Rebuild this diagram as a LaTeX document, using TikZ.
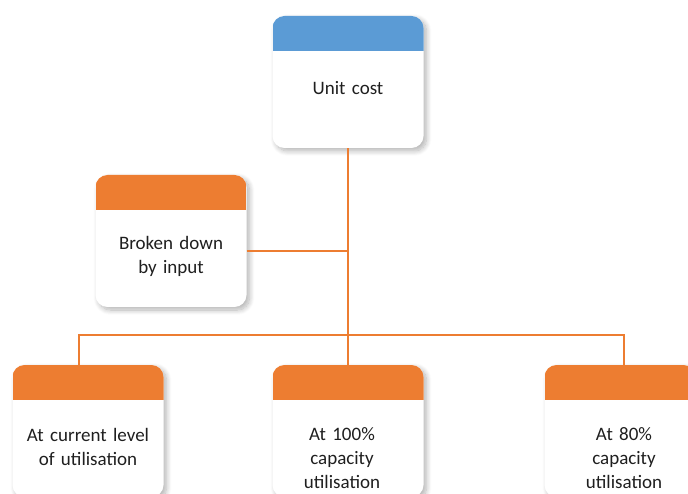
\documentclass[tikz,border=0pt]{standalone}
\usepackage{fontspec}
\setmainfont{Carlito}
\usetikzlibrary{positioning, shadows.blur}

\definecolor{hdrorange}{HTML}{ED7D31}
\definecolor{hdrblue}{HTML}{5B9BD5}
\definecolor{inkgray}{HTML}{1F1F1F}

\tikzset{
    card/.style={rectangle, rounded corners=12pt, fill=white,
        minimum width=151pt, minimum height=132pt, inner sep=0pt,
        blur shadow={shadow xshift=3pt, shadow yshift=-3pt, shadow blur steps=12, shadow blur radius=5pt, shadow opacity=30},
        path picture={\fill[#1, sharp corners] ([yshift=1pt]path picture bounding box.north west)
            rectangle ([yshift=-35pt]path picture bounding box.north east);}},
    cardtext/.style={inner sep=0pt, text width=145pt, align=center, text=inkgray,
        font=\fontsize{19}{24}\selectfont},
    link/.style={draw=hdrorange, line width=1.5pt}
}

\begin{document}
\begin{tikzpicture}[x=1pt, y=-1pt]

\useasboundingbox (0,0) rectangle (688,494);

\node[card=hdrblue] (unit) at (348,82) {};
\node[card=hdrorange] (input) at (171,241) {};
\node[card=hdrorange] (current) at (88,431) {};
\node[card=hdrorange] (full) at (348,431) {};
\node[card=hdrorange] (eighty) at (620,431) {};

\node[cardtext, below=65pt of unit.north] (unittext) {Unit cost};
\node[cardtext, below=61pt of input.north] (inputtext) {Broken down\\by input};
\node[cardtext, below=63pt of current.north] (currenttext) {At current level\\of utilisation};
\node[cardtext, below=63pt of full.north, xshift=-6pt] (fulltext) {At 100\%\\capacity\\utilisation};
\node[cardtext, below=63pt of eighty.north, xshift=4pt] (eightytext) {At 80\%\\capacity\\utilisation};

\draw[link] (unit.south) -- (full.north);
\draw[link] ([yshift=-10pt]input.east) -- ([yshift=-10pt]input.east -| unit.south);
\draw[link] ([xshift=-9pt]current.north) -- ++(0,-30) -| ([xshift=4pt]eighty.north);

\end{tikzpicture}
\end{document}
